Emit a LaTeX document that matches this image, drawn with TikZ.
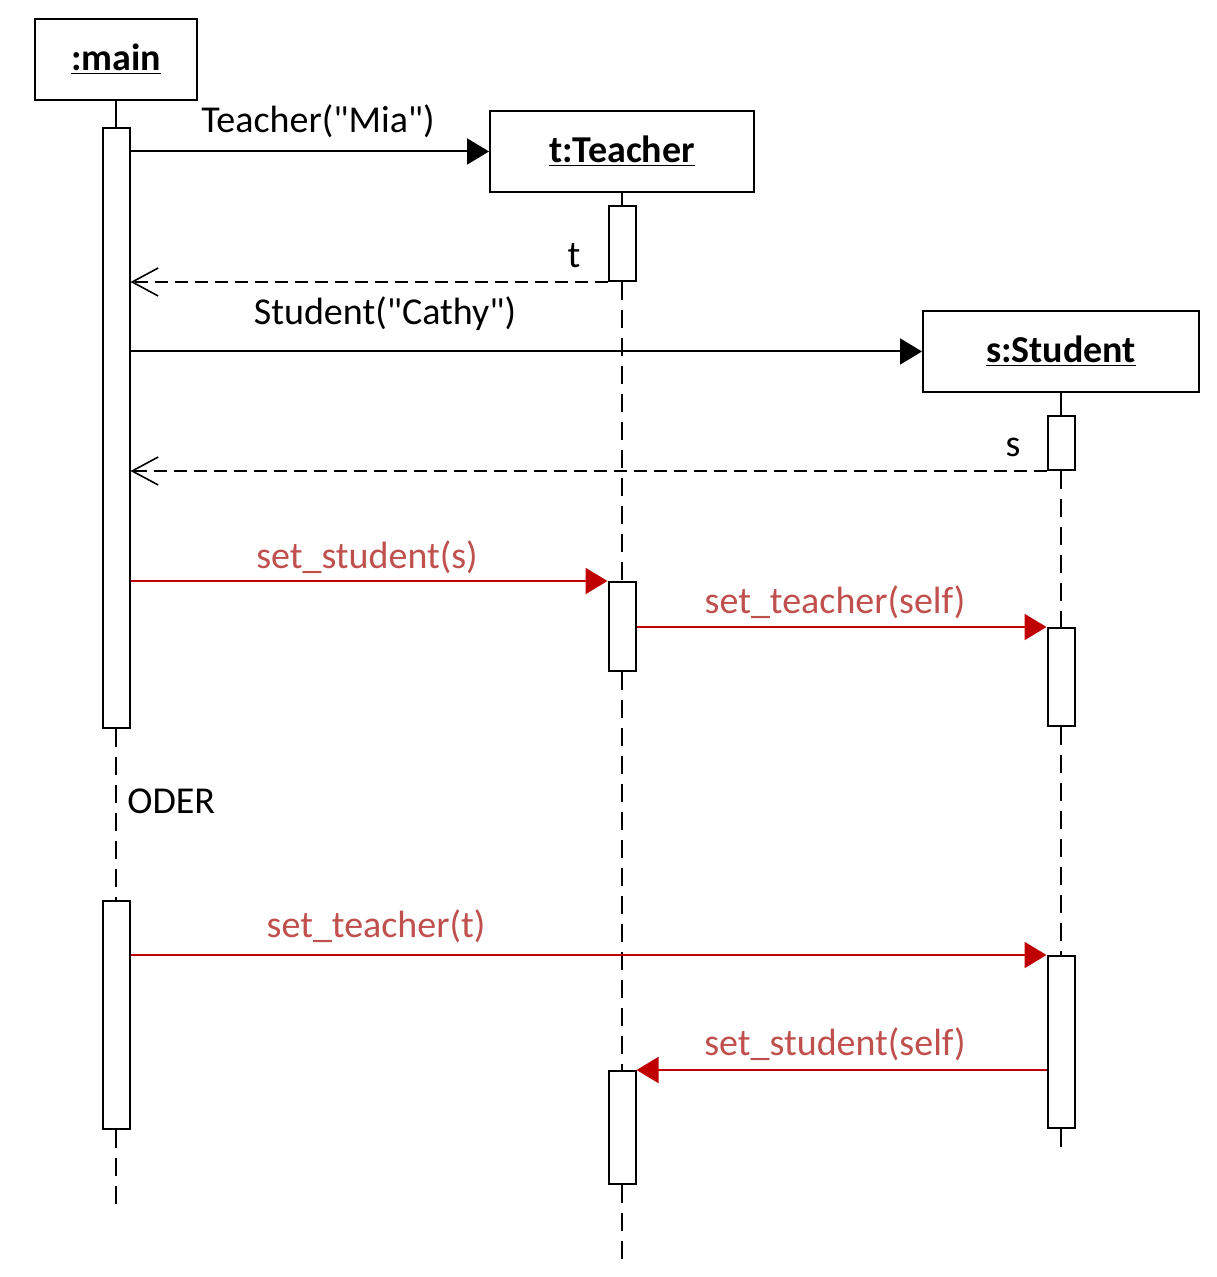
\documentclass[tikz,border=0pt]{standalone}
\usepackage{fontspec}
\setmainfont{Carlito}[Ligatures=TeXOff]
\usetikzlibrary{arrows.meta}
\definecolor{msgred}{HTML}{C00000}
\definecolor{lblred}{HTML}{C0504D}

\begin{document}
\begin{tikzpicture}[
    x=0.5pt, y=-0.5pt,
    obj/.style={draw=black, line width=1pt, minimum height=40.5pt, inner sep=0pt, font=\fontsize{19}{23}\selectfont\bfseries},
    act/.style={draw=black, line width=1pt, fill=white, minimum width=13.5pt, inner sep=0pt, anchor=north},
    life/.style={line width=1pt, dash pattern=on 9pt off 5pt},
    call/.style={line width=1pt, -{Triangle[length=11pt, width=13pt]}},
    reply/.style={line width=0.8pt, dash pattern=on 6.5pt off 3.5pt, -{Straight Barb[length=13pt, width=14pt, line width=0.8pt]}},
    redcall/.style={call, msgred},
    msg/.style={anchor=base, inner sep=0pt, font=\fontsize{19}{23}\selectfont},
    redmsg/.style={msg, text=lblred}
]
    \useasboundingbox (0,0) rectangle (1216,1277);

    \newcommand{\actbar}[4]{
        \node[act, minimum height={0.5pt*(#4-#3)}] (#1) at (#2,#3) {};
    }

    % --- Objects ---
    \node[obj, minimum width=81pt] (mObj) at (116,59.5) {\underline{:main}};
    \node[obj, minimum width=132pt] (tObj) at (622,151.5) {\underline{t:Teacher}};
    \node[obj, minimum width=138pt] (sObj) at (1061,351.5) {\underline{s:Student}};

    % --- Activation bars ---
    \actbar{mA1}{116}{127}{727}
    \actbar{mA2}{116}{900}{1128}
    \actbar{tA1}{622}{205}{280}
    \actbar{tA2}{622}{581}{670}
    \actbar{tA3}{622}{1070}{1183}
    \actbar{sA1}{1061}{415}{469}
    \actbar{sA2}{1061}{627}{725}
    \actbar{sA3}{1061}{955}{1127}

    % --- Lifelines ---
    \coordinate (mEnd) at (116,1205);
    \coordinate (tEnd) at (622,1260);
    \coordinate (sEnd) at (1061,1152);
    \draw[line width=1pt] (mObj.south) -- (mA1.north);
    \draw[life] (mA1.south) -- (mA2.north);
    \draw[life] (mA2.south) -- (mEnd);
    \draw[line width=1pt] (tObj.south) -- (tA1.north);
    \draw[life] (tA1.south) -- (tA2.north);
    \draw[life] (tA2.south) -- (tA3.north);
    \draw[life] (tA3.south) -- (tEnd);
    \draw[line width=1pt] (sObj.south) -- (sA1.north);
    \draw[life] (sA1.south) -- (sA2.north);
    \draw[life] (sA2.south) -- (sA3.north);
    \draw[life] (sA3.south) -- (sEnd);

    % --- Constructor calls ---
    \draw[call] (mA1.east |- tObj.west) -- (tObj.west);
    \node[msg] (lMia) at (318,133) {Teacher("Mia")};
    \draw[reply] (tA1.south west) -- (mA1.east |- tA1.south west);
    \node[msg] (lT) at (574,268) {t};
    \draw[call] (mA1.east |- sObj.west) -- (sObj.west);
    \node[msg] (lCathy) at (385,325) {Student("Cathy")};
    \draw[reply] (sA1.south west) -- (mA1.east |- sA1.south west);
    \node[msg] (lS) at (1013,457) {s};

    % --- Variant 1 ---
    \draw[redcall] (mA1.east |- tA2.north west) -- (tA2.north west);
    \node[redmsg] (lSetS) at (367,568) {set\_student(s)};
    \draw[redcall] (tA2.east |- sA2.north west) -- (sA2.north west);
    \node[redmsg] (lSetTSelf) at (835,613) {set\_teacher(self)};

    \node[msg, anchor=base west] (lOder) at (127,813) {ODER};

    % --- Variant 2 ---
    \draw[redcall] (mA2.east |- sA3.north west) -- (sA3.north west);
    \node[redmsg] (lSetT) at (376,937) {set\_teacher(t)};
    \draw[redcall] (sA3.west |- tA3.north east) -- (tA3.north east);
    \node[redmsg] (lSetSSelf) at (835,1055) {set\_student(self)};
\end{tikzpicture}
\end{document}
